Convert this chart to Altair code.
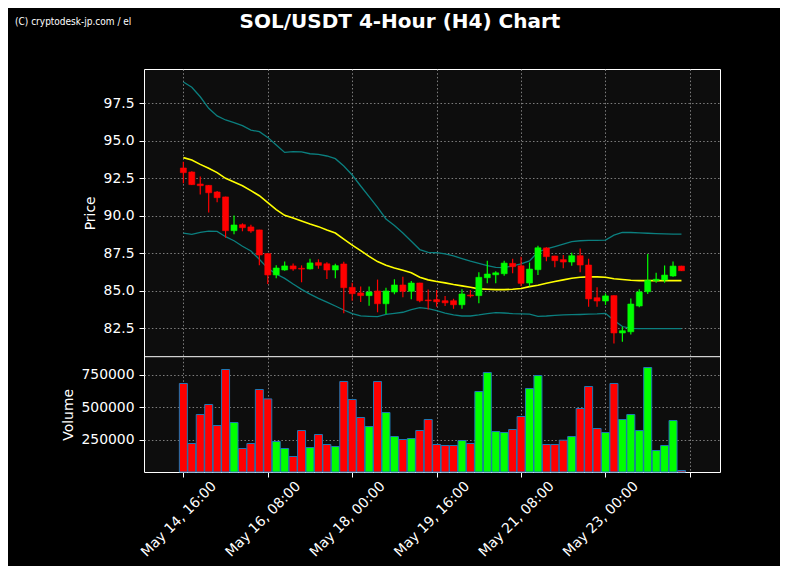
import json
import altair as alt
import pandas as pd

# ---------------- data ----------------
open_ = [93.19, 92.92, 92.12, 92.03, 91.59, 91.26, 89.01, 89.41, 89.26, 89.06,
         87.48, 86.06, 86.39, 86.66, 86.50, 86.46, 86.88, 86.80, 86.39, 86.79,
         85.23, 84.86, 84.68, 84.99, 84.14, 84.92, 85.39, 84.97, 85.52, 84.39,
         84.41, 84.34, 84.34, 84.07, 84.72, 84.68, 85.87, 86.07, 86.14, 86.83,
         86.67, 85.52, 86.41, 87.86, 87.32, 87.08, 86.92, 87.34, 86.72, 84.54,
         84.32, 84.68, 82.19, 82.27, 83.99, 84.94, 85.68, 85.72, 85.99, 86.65]
high = [93.61, 92.97, 92.63, 92.05, 91.66, 91.28, 90.03, 89.50, 89.41, 89.08,
        87.50, 86.70, 86.96, 86.82, 86.70, 87.14, 87.10, 86.90, 86.81, 86.94,
        85.54, 85.28, 85.28, 85.75, 85.21, 85.77, 85.94, 85.66, 85.54, 85.08,
        85.05, 84.65, 84.47, 85.10, 85.05, 86.23, 87.01, 86.30, 87.01, 87.14,
        87.27, 86.89, 88.00, 87.90, 87.34, 87.39, 87.54, 87.83, 87.14, 85.23,
        84.83, 84.70, 82.61, 84.49, 85.10, 87.45, 86.21, 86.69, 86.96, 86.67]
low = [92.17, 92.05, 91.43, 90.23, 90.90, 88.54, 88.77, 88.97, 88.88, 86.70,
       85.46, 85.83, 86.34, 86.34, 85.57, 86.43, 86.47, 85.79, 85.83, 83.50,
       84.34, 84.26, 84.01, 83.57, 83.46, 84.77, 84.57, 84.43, 84.23, 83.75,
       83.94, 83.98, 83.80, 83.80, 84.55, 84.17, 85.50, 85.50, 86.00, 86.17,
       85.30, 85.30, 86.06, 86.97, 86.57, 86.50, 86.68, 86.23, 83.94, 83.94,
       84.06, 81.48, 81.61, 82.09, 83.90, 84.78, 85.54, 85.54, 85.93, 86.32]
close = [92.88, 92.08, 92.01, 91.54, 91.21, 89.01, 89.39, 89.21, 88.99, 87.39,
         86.06, 86.52, 86.66, 86.46, 86.45, 86.86, 86.70, 86.39, 86.68, 85.21,
         84.81, 84.68, 84.92, 84.14, 84.99, 85.39, 84.97, 85.52, 84.34, 84.34,
         84.27, 84.20, 84.07, 84.79, 84.66, 85.90, 86.12, 86.20, 86.85, 86.61,
         85.50, 86.45, 87.87, 87.28, 87.01, 86.92, 87.34, 86.72, 84.46, 84.32,
         84.66, 82.19, 82.34, 84.12, 84.92, 85.70, 85.77, 86.05, 86.65, 86.34]
volume = [680700, 219200, 442300, 519200, 357700, 788400, 380800, 180800, 219200, 634600,
          562300, 234600, 180800, 119200, 319200, 188500, 288500, 211500, 196200, 696100,
          557700, 419200, 350000, 696100, 457700, 273100, 250000, 257700, 319200, 403800,
          211500, 203800, 203800, 242300, 219200, 619200, 765400, 311500, 303800, 326900,
          426900, 642300, 742300, 211500, 211500, 244600, 273100, 488400, 657700, 334600,
          303800, 680700, 403800, 442300, 319200, 803800, 165400, 203800, 396200, 11500]
bb_mid = [93.88, 93.72, 93.43, 93.17, 92.88, 92.50, 92.26, 92.01, 91.68, 91.34,
          90.88, 90.41, 90.03, 89.86, 89.66, 89.46, 89.28, 89.05, 88.85, 88.45,
          88.05, 87.68, 87.30, 86.95, 86.70, 86.52, 86.37, 86.20, 85.90, 85.73,
          85.62, 85.53, 85.42, 85.33, 85.24, 85.13, 85.10, 85.08, 85.08, 85.10,
          85.15, 85.28, 85.37, 85.50, 85.62, 85.73, 85.84, 85.90, 85.93, 85.93,
          85.90, 85.81, 85.75, 85.70, 85.68, 85.68, 85.68, 85.68, 85.68, 85.68]
bb_upper = [98.92, 98.57, 97.94, 97.17, 96.66, 96.39, 96.21, 96.01, 95.72, 95.61,
            95.23, 94.72, 94.23, 94.28, 94.26, 94.14, 94.10, 93.99, 93.81, 93.32,
            92.72, 91.99, 91.28, 90.57, 89.79, 89.35, 88.85, 88.30, 87.75, 87.57,
            87.54, 87.46, 87.33, 87.15, 86.98, 86.83, 86.68, 86.57, 86.55, 86.66,
            86.79, 87.00, 87.59, 87.79, 87.95, 88.12, 88.28, 88.34, 88.36, 88.36,
            88.38, 88.71, 88.89, 88.89, 88.86, 88.84, 88.82, 88.80, 88.78, 88.78]
bb_lower = [88.85, 88.77, 88.90, 88.98, 88.96, 88.61, 88.34, 87.97, 87.66, 87.10,
            86.50, 86.12, 85.83, 85.45, 85.10, 84.78, 84.50, 84.25, 83.99, 83.72,
            83.48, 83.33, 83.30, 83.28, 83.43, 83.50, 83.57, 83.74, 83.88, 83.81,
            83.68, 83.52, 83.39, 83.32, 83.32, 83.39, 83.48, 83.54, 83.52, 83.48,
            83.46, 83.44, 83.30, 83.32, 83.36, 83.39, 83.41, 83.42, 83.44, 83.46,
            83.50, 83.03, 82.62, 82.50, 82.48, 82.48, 82.48, 82.48, 82.48, 82.48]

tick_index = [0, 10, 20, 30, 40, 50, 60]
tick_labels = ["May 14, 16:00", "May 16, 08:00", "May 18, 00:00", "May 19, 16:00",
               "May 21, 08:00", "May 23, 00:00", ""]
price_ticks = [82.5, 85.0, 87.5, 90.0, 92.5, 95.0, 97.5]
volume_ticks = [250000, 500000, 750000]
title_text = "SOL/USDT 4-Hour (H4) Chart"
watermark_text = "(C) cryptodesk-jp.com / el"

df = pd.DataFrame({
    "i": list(range(len(open_))),
    "open": open_, "high": high, "low": low, "close": close,
    "volume": volume, "mid": bb_mid, "upper": bb_upper, "lower": bb_lower,
})
df["dir"] = ["up" if c >= o else "down" for o, c in zip(open_, close)]

# ---------------- layout ----------------
W, H = 576, 403
SPLIT = 287.7  # pixel where price panel ends / volume panel starts
FONT = "DejaVu Sans"
GRID = "#9a9a9a"

x_scale = alt.Scale(domain=[-4.07, 62.97], nice=False, zero=False)
x_axis = alt.Axis(
    values=tick_index,
    labelExpr=f"{json.dumps(tick_labels)}[round(datum.value / 10)]",
    labelAngle=315, labelAlign="center", labelBaseline="middle",
    labelPadding=42, labelOffset=-5, tickSize=5, grid=True, title=None, domain=False,
    labelOverlap=False, labelFlush=False,
)
x_enc = alt.X("i:Q", scale=x_scale, axis=x_axis)

price_scale = alt.Scale(domain=[72.92, 99.79], nice=False, zero=False)
price_axis = alt.Axis(
    values=price_ticks, format=".1f", orient="left", title="Price",
    titleX=-54, titleY=SPLIT / 2, titleAngle=270, titleAlign="center",
    titleBaseline="middle", grid=True, domain=False, tickSize=5, labelPadding=5,
)
vol_scale = alt.Scale(domain=[0, 3100000], nice=False, zero=True)
vol_axis = alt.Axis(
    values=volume_ticks, format="d", orient="left", title="Volume",
    titleX=-76, titleY=SPLIT + (H - SPLIT) / 2, titleAngle=270, titleAlign="center",
    titleBaseline="middle", grid=True, domain=False, tickSize=5, labelPadding=5,
)

color_scale = alt.Scale(domain=["up", "down"], range=["#00ff00", "#ff0000"])
color_enc = alt.Color("dir:N", scale=color_scale, legend=None)
stroke_enc = alt.Stroke("dir:N", scale=color_scale, legend=None)


def py(field):
    return alt.Y(f"{field}:Q", scale=price_scale, axis=price_axis)


base = alt.Chart(df)
teal = "#0b7f7f"
upper_line = base.mark_line(color=teal, strokeWidth=1.3).encode(x=x_enc, y=py("upper"))
lower_line = base.mark_line(color=teal, strokeWidth=1.3).encode(x=x_enc, y=py("lower"))
mid_line = base.mark_line(color="#ffff00", strokeWidth=1.6).encode(x=x_enc, y=py("mid"))
wicks = base.mark_rule(strokeWidth=1.2).encode(x=x_enc, y=py("low"), y2="high:Q", color=color_enc)
bodies = base.mark_bar(size=6, strokeWidth=0.6).encode(
    x=x_enc, y=py("open"), y2="close:Q", color=color_enc, stroke=stroke_enc
)
price = alt.layer(upper_line, lower_line, mid_line, wicks, bodies)

vol = base.mark_bar(size=8, stroke="#1f77b4", strokeWidth=1).encode(
    x=x_enc, y=alt.Y("volume:Q", scale=vol_scale, axis=vol_axis), color=color_enc
)

one = pd.DataFrame({"t": [title_text], "w": [watermark_text]})
sep = alt.Chart(one).mark_rule(color="white", strokeWidth=1).encode(
    y=alt.value(SPLIT), x=alt.value(0), x2=alt.value(W)
)
title = alt.Chart(one).mark_text(
    font=FONT, fontSize=20, fontWeight="bold", color="white", align="center", baseline="alphabetic"
).encode(text="t:N", x=alt.value(400 - 144), y=alt.value(28 - 69))
wm = alt.Chart(one).mark_text(
    font="Liberation Sans Narrow, DejaVu Sans Condensed, Liberation Sans, Arial, sans-serif",
    fontSize=10, color="white", align="left", baseline="middle"
).encode(text="w:N", x=alt.value(15 - 144), y=alt.value(22 - 69))

chart = alt.layer(price, vol, sep, title, wm).resolve_scale(y="independent").properties(
    width=W, height=H,
    autosize=alt.AutoSizeParams(type="none"),
    padding={"left": 136, "top": 61, "right": 60, "bottom": 94},
    background="black",
).configure_view(
    fill="#0d0d0d", stroke="white", strokeWidth=1
).configure_axis(
    labelColor="white", tickColor="white", labelFont=FONT, labelFontSize=13.9,
    titleColor="white", titleFont=FONT, titleFontSize=13.9, titleFontWeight="normal",
    gridColor=GRID, gridDash=[1.5, 2.2], gridWidth=0.9, gridOpacity=0.9,
)

chart.save("out.html", embed_options={"renderer": "svg", "actions": False})
